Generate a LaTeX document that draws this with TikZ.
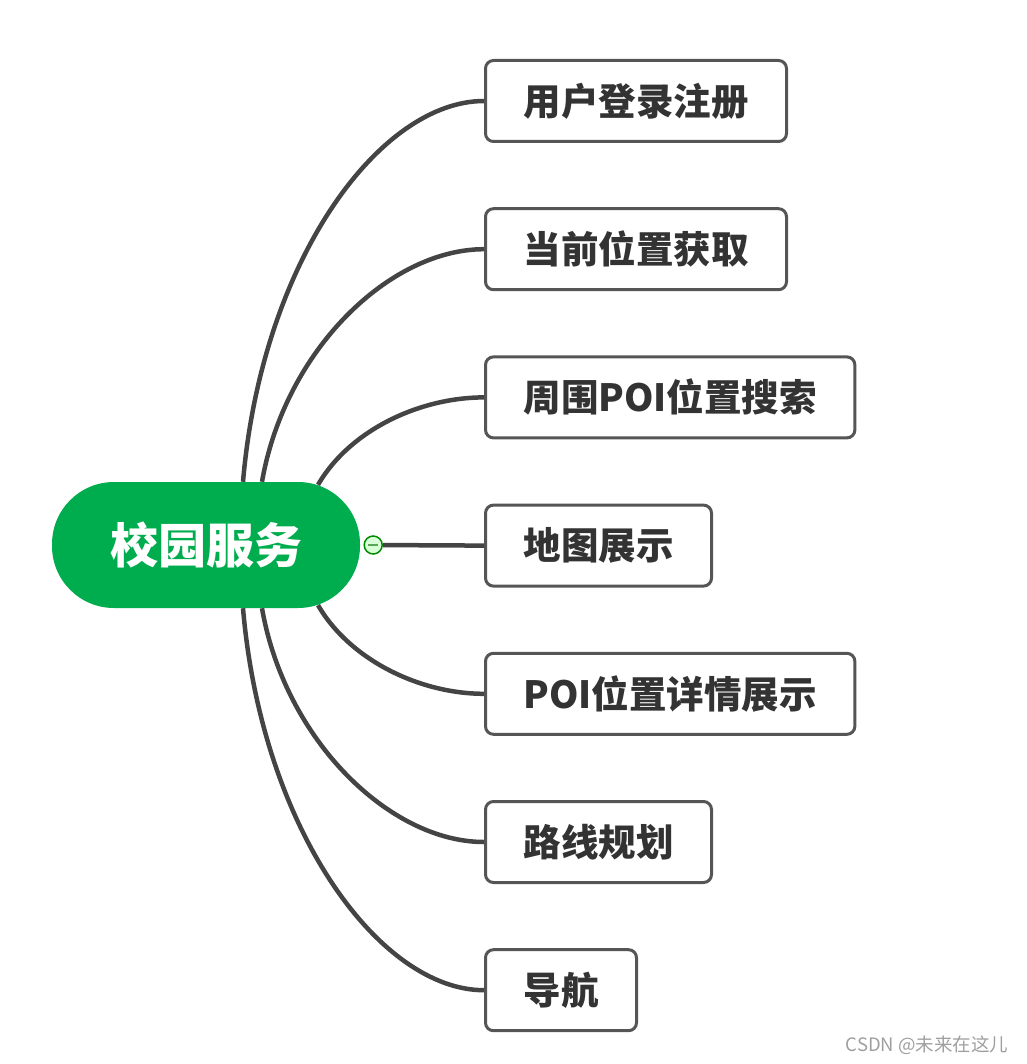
\documentclass[tikz,border=0pt]{standalone}
\usepackage{fontspec}
\setmainfont{Noto Sans CJK SC}
\usetikzlibrary{calc}
\definecolor{rootgreen}{HTML}{00AD4E}
\definecolor{lingray}{HTML}{444444}
\definecolor{boxgray}{HTML}{555555}
\definecolor{txtgray}{HTML}{333333}

\begin{document}
\begin{tikzpicture}
      [x=1pt,y=-1pt
      ,root/.style={rectangle,rounded corners=62pt,fill=rootgreen,minimum width=308pt,minimum height=126pt
                   ,text=white,font=\fontsize{48}{56}\selectfont\bfseries}
      ,leaf/.style={rectangle,draw=boxgray,line width=3pt,rounded corners=8pt,fill=white,anchor=west
                   ,minimum height=81pt,inner xsep=38pt,text=txtgray,font=\fontsize{37.5}{44}\selectfont\bfseries}
      ,lin/.style={color=lingray,line width=4.5pt}
      ,fold/.style={circle,draw=green!55!black,fill=green!15,line width=1.5pt,inner sep=0,minimum size=18pt}]
        \useasboundingbox (0,0) rectangle (1026,1064);
        \node[root] (root) at (206,545) {校园服务};
        \foreach \t [count=\i] in {用户登录注册,当前位置获取,周围POI位置搜索,地图展示,POI位置详情展示,路线规划,导航}{
          \node[leaf] (u\i) at (484,{101+148.2*(\i-1)}) {\t};
        }
        % upper branches
        \draw[lin] ($(root.north)+(37,0)$)  .. controls +(19,-222) and +(-104,0) .. (u1.west);
        \draw[lin] ($(root.north)+(56,0)$)  .. controls +(23,-132) and +(-94,0)  .. (u2.west);
        \draw[lin] ($(root.north)+(112,3)$) .. controls +(32,-55)  and +(-64,0)  .. (u3.west);
        % lower branches
        \draw[lin] ($(root.south)+(112,-3)$) .. controls +(32,55)  and +(-64,0)  .. (u5.west);
        \draw[lin] ($(root.south)+(56,0)$)   .. controls +(23,132) and +(-94,0)  .. (u6.west);
        \draw[lin] ($(root.south)+(37,0)$)   .. controls +(19,222) and +(-104,0) .. (u7.west);
        % fold button
        \node[fold] (f) at ($(root.east)+(13,0)$) {};
        \draw[lin] (f) -- (u4.west);
        \draw[color=green!30!gray,line width=2pt] ($(f.center)+(-5,0)$) -- ($(f.center)+(5,0)$);
        \node[anchor=east,text=gray!75,font=\fontsize{18.5}{22}\selectfont] (mark) at (1012,1045) {CSDN @未来在这儿};
      \end{tikzpicture}
\end{document}
